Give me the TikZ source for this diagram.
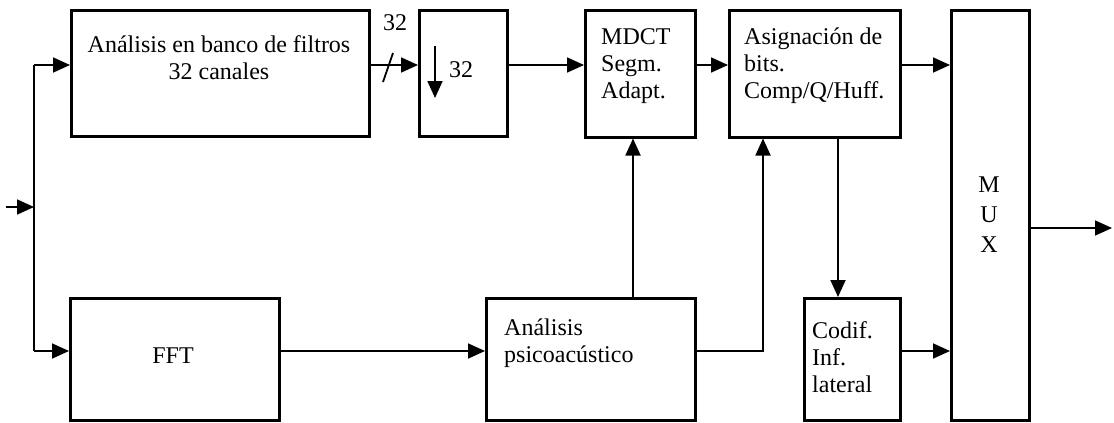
\documentclass[tikz,border=0pt]{standalone}
\usepackage{fontspec}
\setmainfont{Liberation Serif}
\usetikzlibrary{arrows.meta}

\begin{document}
\begin{tikzpicture}[
    x=1pt, y=-1pt,
    every node/.style={font=\fontsize{24}{27}\selectfont, inner sep=0pt},
    box/.style={draw, line width=2.5pt, anchor=north west},
    txt/.style={align=left, anchor=west},
    lin/.style={line width=1.8pt},
    arr/.style={-{Triangle[length=17pt,width=15pt]}, line width=1.8pt}
]
\useasboundingbox (0,0) rectangle (1114,423);

% Boxes
\node[box, minimum width=298pt, minimum height=126pt] (banco) at (70,9) {};
\node[box, minimum width=88pt, minimum height=126pt] (diezmo) at (418,9) {};
\node[box, minimum width=110pt, minimum height=127pt] (mdct) at (584,9) {};
\node[box, minimum width=171pt, minimum height=127pt] (asig) at (728,9) {};
\node[box, minimum width=78pt, minimum height=410pt] (mux) at (950,9) {};
\node[box, minimum width=209pt, minimum height=122pt] (fft) at (69,297) {};
\node[box, minimum width=209pt, minimum height=122pt] (psico) at (485,297) {};
\node[box, minimum width=96pt, minimum height=122pt] (codif) at (803,297) {};

% Texts
\node[align=center] (tbanco) at (219,58) {Análisis en banco de filtros\\32 canales};
\node[txt] (tmdct) at (601,66) {MDCT\\Segm.\\Adapt.};
\node[txt] (tasig) at (744,66) {Asignación de\\bits.\\Comp/Q/Huff.};
\node[txt] (tpsico) at (504,343) {Análisis\\psicoacústico};
\node[txt] (tcodif) at (812,357) {Codif.\\Inf.\\lateral};
\node (tfft) at (173,356) {FFT};
\node[align=center] (tmux) at (989,215) {M\\[3pt]U\\[3pt]X};
\node (tbits) at (395,23) {32};
\node (tfactor) at (461,70) {32};

% Arrows
\coordinate (entrada) at (6,207);
\coordinate (rama) at (34,207);
\coordinate (ramasup) at (34,65);
\coordinate (ramainf) at (34,351);
\coordinate (salida) at (1112,228);
\coordinate (psicoup) at (633,0);
\coordinate (psicoder) at (763,0);
\coordinate (lateral) at (838,0);
\coordinate (flechaa) at (435,46);
\coordinate (flechab) at (435,98);
\coordinate (barraa) at (383,82);
\coordinate (barrab) at (393,53);

\draw[arr] (entrada) -- (rama);
\draw[lin] (ramasup) -- (ramainf);
\draw[arr] (ramasup) -- (ramasup -| banco.west);
\draw[arr] (ramainf) -- (ramainf -| fft.west);
\draw[arr] (banco.east |- ramasup) -- (diezmo.west |- ramasup);
\draw[lin] (barraa) -- (barrab);
\draw[arr] (flechaa) -- (flechab);
\draw[arr] (diezmo.east |- ramasup) -- (mdct.west |- ramasup);
\draw[arr] (mdct.east |- ramasup) -- (asig.west |- ramasup);
\draw[arr] (asig.east |- ramasup) -- (mux.west |- ramasup);
\draw[arr] (fft.east |- ramainf) -- (psico.west |- ramainf);
\draw[arr] (psicoup |- psico.north) -- (psicoup |- mdct.south);
\draw[arr] (psico.east |- ramainf) -| (psicoder |- asig.south);
\draw[arr] (lateral |- asig.south) -- (lateral |- codif.north);
\draw[arr] (codif.east |- ramainf) -- (mux.west |- ramainf);
\draw[arr] (mux.east |- salida) -- (salida);
\end{tikzpicture}
\end{document}
